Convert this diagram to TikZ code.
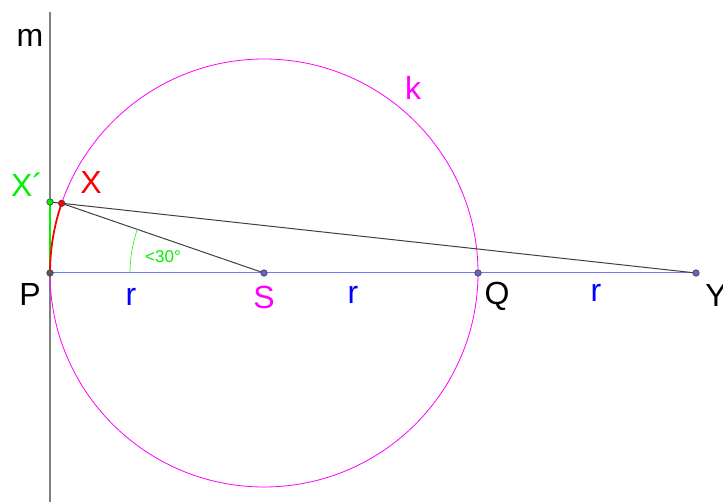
\documentclass[tikz,border=0pt]{standalone}
\usepackage{fontspec}
\setmainfont{Liberation Sans}
\usetikzlibrary{calc}
\definecolor{kmag}{RGB}{255,0,255}
\definecolor{lblue}{RGB}{120,120,255}
\definecolor{pblue}{RGB}{100,100,200}
\definecolor{zold}{RGB}{0,240,0}
\tikzset{
  pont/.style={circle,draw=black!75,fill=#1,inner sep=0pt,minimum size=6.5pt,line width=0.6pt},
  pont/.default=pblue,
  cimke/.style={inner sep=0pt,font=\fontsize{32}{32}\selectfont},
  vonal/.style={line width=1pt,black!75},
}
\begin{document}
\begin{tikzpicture}[x=1pt,y=1pt]
  \useasboundingbox (0,0) rectangle (723,502);
  % line m and the circle k
  \draw[line width=1.3pt,gray] (50,0) -- (50,490);
  \coordinate (S) at (264,229);
  \draw[kmag,line width=0.8pt] (S) circle[radius=214];
  % points
  \coordinate (Pc) at (50,229);
  \coordinate (Qc) at ($(S)+(214,0)$);
  \coordinate (Yc) at (696,229);
  \coordinate (Xc) at ($(S)+(161:214)$);
  \coordinate (X1c) at (50,300);
  % segments
  \draw[lblue,line width=1pt] (Pc) -- (Yc);
  \draw[vonal] (X1c) -- (Yc);
  \draw[vonal] (Xc) -- (S);
  \draw[zold,line width=1.6pt] (Pc) -- (X1c);
  \draw[red,line width=1.8pt] (Pc) arc[start angle=180,end angle=161,radius=214];
  \draw[zold!80,line width=0.7pt] ($(S)+(180:134)$) arc[start angle=180,end angle=161,radius=134];
  \node[pont=black!65] (P) at (Pc) {};
  \node[pont] (Sp) at (S) {};
  \node[pont] (Q) at (Qc) {};
  \node[pont] (Y) at (Yc) {};
  \node[pont=zold] (X1) at (X1c) {};
  \node[pont=red] (X) at (Xc) {};
  % labels
  \node[cimke] (lm) at (30,464) {m};
  \node[cimke,text=kmag] (lk) at (413,414) {k};
  \node[cimke,text=zold] (lX1) at (27,317) {X´};
  \node[cimke,text=red] (lX) at (91,319) {X};
  \node[cimke] (lP) at (30,208) {P};
  \node[cimke,text=kmag] (lS) at (264,205) {S};
  \node[cimke] (lQ) at (497,206) {Q};
  \node[cimke] (lY) at (716,207) {Y};
  \foreach \x/\y in {131/205, 353/207, 596/209}
    \node[cimke,text=blue] at (\x,\y) {r};
  \node[inner sep=0pt,text=zold,font=\fontsize{17}{17}\selectfont] (lang) at (163,245) {<30°};
\end{tikzpicture}
\end{document}
